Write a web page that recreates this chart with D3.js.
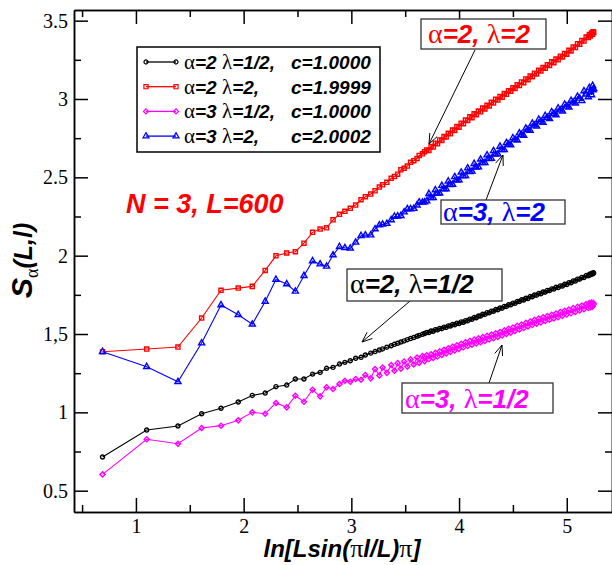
<!DOCTYPE html>
<html>
<head>
<meta charset="utf-8">
<script src="https://cdn.jsdelivr.net/npm/d3@7"></script>
<style>
  body { margin: 0; background: #fff; }
</style>
</head>
<body>
<svg id="chart" width="612" height="565"></svg>
<script>
// x = ln[L sin(pi l/L)/pi], shared by all curves
var lnArg = [0.69, 1.10, 1.39, 1.61, 1.79, 1.95, 2.08, 2.20, 2.30, 2.40, 2.48, 2.56, 2.64, 2.71, 2.77, 2.83, 2.89, 2.94, 2.99, 3.04, 3.09, 3.13, 3.18, 3.22,
  3.26, 3.29, 3.33, 3.37, 3.40, 3.43, 3.46, 3.49, 3.52, 3.55, 3.58, 3.61, 3.63, 3.66, 3.68,
  3.70, 3.72, 3.74, 3.76, 3.78, 3.80, 3.82, 3.84, 3.86, 3.88,
  3.90, 3.92, 3.94, 3.96, 3.98, 4.00, 4.02, 4.04, 4.06, 4.08,
  4.10, 4.12, 4.14, 4.16, 4.18, 4.20, 4.22, 4.24, 4.26, 4.28,
  4.30, 4.32, 4.34, 4.36, 4.38, 4.40, 4.42, 4.44, 4.46, 4.48,
  4.50, 4.52, 4.54, 4.56, 4.58, 4.60, 4.62, 4.64, 4.66, 4.68,
  4.70, 4.72, 4.74, 4.76, 4.78, 4.80, 4.82, 4.84, 4.86, 4.88,
  4.90, 4.92, 4.94, 4.96, 4.98, 5.00, 5.02, 5.04, 5.06, 5.08,
  5.10, 5.12, 5.14, 5.16, 5.18, 5.20, 5.21, 5.22, 5.23, 5.24,
  5.245, 5.25];

// alpha=2, lambda=1/2
var s2Half = [0.715, 0.887, 0.913, 0.991, 1.026, 1.066, 1.108, 1.123, 1.164, 1.174, 1.213, 1.213, 1.244, 1.255, 1.281, 1.287, 1.308, 1.319, 1.329, 1.345, 1.351, 1.366, 1.378, 1.388,
  1.398, 1.405, 1.416, 1.425, 1.434, 1.441, 1.449, 1.456, 1.464, 1.471, 1.478, 1.486, 1.491, 1.498, 1.503,
  1.510, 1.509, 1.519, 1.518, 1.528, 1.526, 1.536, 1.534, 1.544, 1.542,
  1.552, 1.551, 1.561, 1.559, 1.569, 1.567, 1.577, 1.575, 1.585, 1.584,
  1.595, 1.594, 1.605, 1.604, 1.615, 1.615, 1.626, 1.625, 1.636, 1.635,
  1.646, 1.645, 1.656, 1.655, 1.666, 1.665, 1.676, 1.676, 1.687, 1.686,
  1.697, 1.696, 1.707, 1.707, 1.718, 1.717, 1.728, 1.727, 1.739, 1.738,
  1.749, 1.748, 1.759, 1.757, 1.768, 1.767, 1.778, 1.777, 1.788, 1.787,
  1.798, 1.796, 1.807, 1.806, 1.817, 1.816, 1.828, 1.827, 1.839, 1.838,
  1.850, 1.850, 1.861, 1.861, 1.873, 1.872, 1.881, 1.878, 1.887, 1.883,
  1.891, 1.889];

// alpha=2, lambda=2
var s2Two = [1.387, 1.404, 1.417, 1.602, 1.779, 1.793, 1.804, 1.906, 1.999, 2.017, 2.025, 2.080, 2.149, 2.170, 2.178, 2.229, 2.264, 2.283, 2.302, 2.323, 2.357, 2.376, 2.393, 2.414,
  2.438, 2.452, 2.468, 2.494, 2.506, 2.520, 2.548, 2.558, 2.572, 2.596, 2.606, 2.620, 2.640, 2.650, 2.664,
  2.675, 2.672, 2.696, 2.693, 2.718, 2.714, 2.739, 2.735, 2.760, 2.757,
  2.781, 2.778, 2.802, 2.799, 2.824, 2.820, 2.845, 2.842, 2.866, 2.863,
  2.886, 2.881, 2.905, 2.900, 2.923, 2.918, 2.942, 2.937, 2.960, 2.956,
  2.979, 2.974, 2.998, 2.993, 3.016, 3.011, 3.035, 3.030, 3.053, 3.049,
  3.072, 3.067, 3.091, 3.086, 3.109, 3.104, 3.128, 3.123, 3.146, 3.142,
  3.165, 3.160, 3.183, 3.178, 3.201, 3.196, 3.219, 3.214, 3.237, 3.232,
  3.255, 3.250, 3.273, 3.268, 3.291, 3.286, 3.311, 3.307, 3.332, 3.328,
  3.353, 3.349, 3.374, 3.370, 3.395, 3.392, 3.411, 3.402, 3.421, 3.413,
  3.429, 3.425];

// alpha=3, lambda=1/2
var s3Half = [0.604, 0.828, 0.800, 0.900, 0.915, 0.949, 1.000, 0.991, 1.060, 1.032, 1.106, 1.068, 1.144, 1.102, 1.160, 1.149, 1.181, 1.202, 1.195, 1.213, 1.208, 1.238, 1.217, 1.276,
  1.236, 1.286, 1.252, 1.302, 1.266, 1.314, 1.279, 1.325, 1.292, 1.338, 1.305, 1.350, 1.316, 1.360, 1.327,
  1.364, 1.340, 1.371, 1.347, 1.380, 1.356, 1.389, 1.366, 1.399, 1.376,
  1.409, 1.386, 1.418, 1.395, 1.428, 1.405, 1.438, 1.415, 1.448, 1.423,
  1.456, 1.432, 1.464, 1.440, 1.472, 1.448, 1.480, 1.456, 1.489, 1.465,
  1.497, 1.473, 1.505, 1.481, 1.513, 1.490, 1.523, 1.500, 1.533, 1.509,
  1.542, 1.519, 1.552, 1.529, 1.561, 1.538, 1.571, 1.548, 1.580, 1.557,
  1.590, 1.566, 1.598, 1.574, 1.607, 1.583, 1.615, 1.591, 1.623, 1.599,
  1.631, 1.607, 1.640, 1.616, 1.648, 1.624, 1.656, 1.632, 1.665, 1.641,
  1.673, 1.650, 1.682, 1.658, 1.691, 1.667, 1.697, 1.671, 1.701, 1.675,
  1.700, 1.691];

// alpha=3, lambda=2
var s3Two = [1.387, 1.291, 1.195, 1.442, 1.685, 1.623, 1.562, 1.708, 1.848, 1.819, 1.772, 1.872, 1.966, 1.946, 1.932, 2.004, 2.057, 2.050, 2.047, 2.085, 2.127, 2.131, 2.131, 2.170,
  2.195, 2.200, 2.205, 2.228, 2.250, 2.252, 2.255, 2.278, 2.298, 2.298, 2.300, 2.322, 2.342, 2.340, 2.342,
  2.348, 2.395, 2.370, 2.369, 2.419, 2.397, 2.398, 2.447, 2.425, 2.426,
  2.475, 2.453, 2.454, 2.503, 2.481, 2.482, 2.532, 2.509, 2.510, 2.559,
  2.536, 2.538, 2.587, 2.564, 2.565, 2.615, 2.592, 2.593, 2.642, 2.619,
  2.620, 2.669, 2.647, 2.648, 2.697, 2.675, 2.675, 2.720, 2.710, 2.706,
  2.751, 2.741, 2.737, 2.782, 2.772, 2.767, 2.813, 2.803, 2.799, 2.844,
  2.832, 2.825, 2.869, 2.857, 2.850, 2.893, 2.881, 2.874, 2.917, 2.905,
  2.898, 2.941, 2.929, 2.922, 2.965, 2.953, 2.947, 2.990, 2.979, 2.972,
  3.016, 3.004, 2.988, 3.051, 3.030, 3.013, 3.072, 3.046, 3.026, 3.085,
  3.057, 3.065];

var legendAlpha = ['2', '2', '3', '3'];
var legendLambda = ['1/2,', '2,', '1/2,', '2,'];
var legendC = ['1.0000', '1.9999', '1.0000', '2.0002'];

var xTicks = [1, 2, 3, 4, 5];
var xMinor = [0.5, 1.5, 2.5, 3.5, 4.5];
var yTicks = [0.5, 1, 1.5, 2, 2.5, 3, 3.5];
var yTickLabels = ['0.5', '1', '1,5', '2', '2.5', '3', '3.5'];
var yMinor = [0.75, 1.25, 1.75, 2.25, 2.75, 3.25];

var SANS = '"Liberation Sans", Arial, sans-serif';
var SERIF = '"Liberation Serif", "Times New Roman", serif';

var svg = d3.select('#chart');

var x = d3.scaleLinear().domain([0.425, 5.42]).range([74, 612]);
var y = d3.scaleLinear().domain([0.364, 3.568]).range([512, 10]);

var series = [
  {vals: s2Half, color: '#000000', sym: d3.symbolCircle, size: 13, rot: 0},
  {vals: s2Two, color: '#ff0000', sym: d3.symbolSquare, size: 17, rot: 0},
  {vals: s3Half, color: '#ff00ff', sym: d3.symbolSquare, size: 13, rot: 45},
  {vals: s3Two, color: '#0000ff', sym: d3.symbolTriangle, size: 16, rot: 0}
];

var line = d3.line()
  .x(function(d, i) { return x(lnArg[i]); })
  .y(function(d) { return y(d); });

series.forEach(function(s) {
  var g = svg.append('g');
  g.append('path')
    .attr('d', line(s.vals))
    .attr('fill', 'none')
    .attr('stroke', s.color)
    .attr('stroke-width', 1.1);
  g.selectAll('path.m')
    .data(s.vals)
    .enter().append('path')
    .attr('class', 'm')
    .attr('d', d3.symbol().type(s.sym).size(s.size))
    .attr('transform', function(d, i) { return 'translate(' + x(lnArg[i]) + ',' + y(d) + ') rotate(' + s.rot + ')'; })
    .attr('fill', 'none')
    .attr('stroke', s.color)
    .attr('stroke-width', 1.4);
});

// axes on all four sides, ticks pointing inward
function axis(gen, scale, vals, size, pos, pad, fmt) {
  var a = gen(scale).tickValues(vals).tickSize(size).tickSizeOuter(0).tickPadding(pad);
  a.tickFormat(fmt || function() { return ''; });
  var g = svg.append('g').attr('transform', pos).call(a);
  g.selectAll('line').attr('stroke', '#000').attr('stroke-width', 1.5);
  g.select('.domain').attr('stroke', '#000').attr('stroke-width', 1.5);
  g.selectAll('text')
    .attr('font-family', SERIF)
    .attr('font-size', 20)
    .attr('fill', '#000');
  return g;
}

axis(d3.axisBottom, x, xTicks, -14, 'translate(0,512)', 7, function(d) { return d; });
axis(d3.axisBottom, x, xMinor, -7, 'translate(0,512)', 7);
axis(d3.axisTop, x, xTicks, -14, 'translate(0,10)', 6);
axis(d3.axisTop, x, xMinor, -7, 'translate(0,10)', 6);
axis(d3.axisLeft, y, yTicks, -14, 'translate(74,0)', 6, function(d, i) { return yTickLabels[i]; });
axis(d3.axisLeft, y, yMinor, -7, 'translate(74,0)', 6);
axis(d3.axisRight, y, yTicks, -14, 'translate(612,0)', 6);
axis(d3.axisRight, y, yMinor, -7, 'translate(612,0)', 6);

// legend
var legend = svg.append('g');
legend.append('rect')
  .attr('x', 137).attr('y', 47).attr('width', 243).attr('height', 105)
  .attr('fill', '#fff').attr('stroke', '#000').attr('stroke-width', 1.5);

series.forEach(function(s, i) {
  var ly = 62 + i * 24.7;
  legend.append('line')
    .attr('x1', 146).attr('x2', 176).attr('y1', ly).attr('y2', ly)
    .attr('stroke', s.color).attr('stroke-width', 1.3);
  [146, 176].forEach(function(px) {
    legend.append('path')
      .attr('d', d3.symbol().type(s.sym).size(s.size))
      .attr('transform', 'translate(' + px + ',' + ly + ') rotate(' + s.rot + ')')
      .attr('fill', 'none').attr('stroke', s.color).attr('stroke-width', 1.2);
  });
  var t = legend.append('text').attr('x', 184).attr('y', ly + 7).attr('fill', '#000');
  t.append('tspan').attr('font-family', SERIF).attr('font-size', 21).text('α');
  t.append('tspan').attr('font-family', SANS).attr('font-size', 19).attr('font-weight', 'bold').attr('font-style', 'italic').text('=' + legendAlpha[i] + ' ');
  t.append('tspan').attr('font-family', SERIF).attr('font-size', 21).text('λ');
  t.append('tspan').attr('font-family', SANS).attr('font-size', 19).attr('font-weight', 'bold').attr('font-style', 'italic').text('=' + legendLambda[i]);
  legend.append('text').attr('x', 291).attr('y', ly + 7)
    .attr('font-family', SANS).attr('font-size', 19).attr('font-weight', 'bold').attr('font-style', 'italic')
    .text('c=' + legendC[i]);
});

// labels on the curves
var notes = [
  {parts: ['α', '=2, ', 'λ', '=2'], color: '#ff0000', box: [421, 19, 125, 30], tx: 428, ty: 43, arrow: [475, 50, 429, 144]},
  {parts: ['α', '=3, ', 'λ', '=2'], color: '#0000ff', box: [441, 200, 124, 24], tx: 443, ty: 221, arrow: [486, 200, 503, 155]},
  {parts: ['α', '=2, ', 'λ', '=1/2'], color: '#000000', box: [347, 269, 155, 32], tx: 350, ty: 293, arrow: [410, 301, 362, 342]},
  {parts: ['α', '=3, ', 'λ', '=1/2'], color: '#ff00ff', box: [402, 383, 151, 30], tx: 405, ty: 408, arrow: [489, 383, 502, 345]}
];

notes.forEach(function(n) {
  var a = n.arrow;
  svg.append('line')
    .attr('x1', a[0]).attr('y1', a[1]).attr('x2', a[2]).attr('y2', a[3])
    .attr('stroke', '#000').attr('stroke-width', 1);
  var ang = Math.atan2(a[3] - a[1], a[2] - a[0]);
  [-0.38, 0.38].forEach(function(da) {
    svg.append('line')
      .attr('x1', a[2]).attr('y1', a[3])
      .attr('x2', a[2] - 11 * Math.cos(ang + da)).attr('y2', a[3] - 11 * Math.sin(ang + da))
      .attr('stroke', '#000').attr('stroke-width', 1);
  });
  svg.append('rect')
    .attr('x', n.box[0]).attr('y', n.box[1]).attr('width', n.box[2]).attr('height', n.box[3])
    .attr('fill', '#fff').attr('stroke', '#333').attr('stroke-width', 1.3);
  var t = svg.append('text').attr('x', n.tx).attr('y', n.ty).attr('fill', n.color);
  n.parts.forEach(function(p, i) {
    var ts = t.append('tspan').text(p);
    if (i % 2 == 0) {
      ts.attr('font-family', SERIF).attr('font-size', 28);
    } else {
      ts.attr('font-family', SANS).attr('font-size', 26).attr('font-weight', 'bold').attr('font-style', 'italic');
    }
  });
});

svg.append('text')
  .attr('x', 126).attr('y', 213)
  .attr('font-family', SANS).attr('font-size', 27).attr('font-weight', 'bold').attr('font-style', 'italic')
  .attr('fill', '#ff0000')
  .text('N = 3, L=600');

// axis titles
var xt = svg.append('text')
  .attr('x', 342).attr('y', 557)
  .attr('text-anchor', 'middle')
  .attr('font-family', SANS).attr('font-size', 24).attr('font-weight', 'bold').attr('font-style', 'italic');
xt.append('tspan').text('ln[Lsin(');
xt.append('tspan').attr('font-family', SERIF).attr('font-weight', 'normal').attr('font-style', 'normal').attr('font-size', 26).text('π');
xt.append('tspan').text('l/L)');
xt.append('tspan').attr('font-family', SERIF).attr('font-weight', 'normal').attr('font-style', 'normal').attr('font-size', 26).text('π');
xt.append('tspan').text(']');

var yt = svg.append('text')
  .attr('transform', 'translate(32,298) rotate(-90)')
  .attr('font-family', SANS).attr('font-weight', 'bold').attr('font-style', 'italic');
yt.append('tspan').attr('font-size', 30).text('S');
yt.append('tspan').attr('font-family', SERIF).attr('font-weight', 'normal').attr('font-style', 'normal')
  .attr('font-size', 18).attr('dy', 6).text('α');
yt.append('tspan').attr('font-size', 25).attr('dy', -6).text('(L,l)');
</script>
</body>
</html>
